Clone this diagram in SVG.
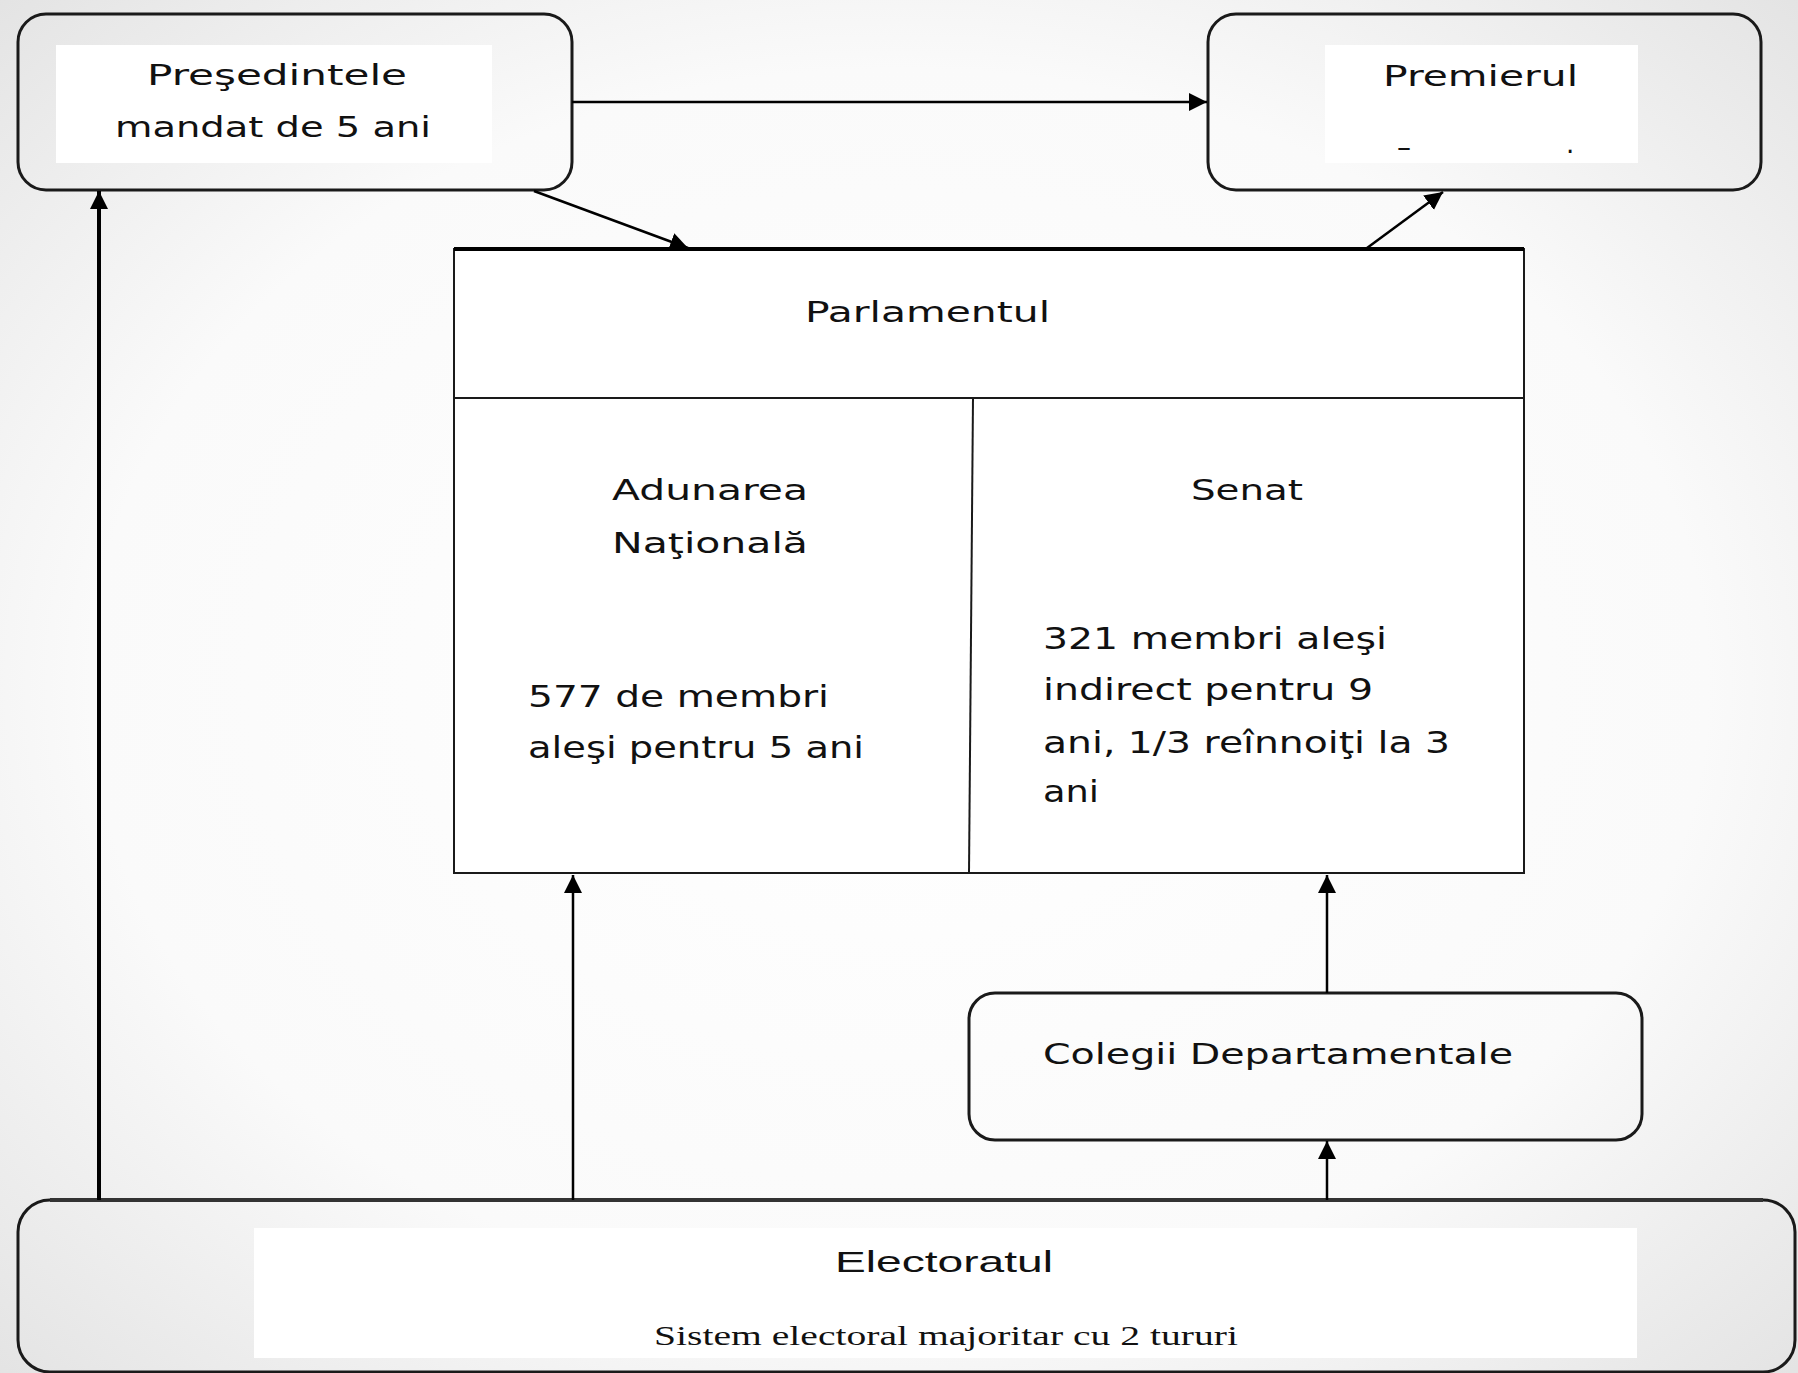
<svg xmlns="http://www.w3.org/2000/svg" width="1798" height="1373" viewBox="0 0 1798 1373">
<defs>
<radialGradient id="bg" cx="50%" cy="50%" r="75%">
<stop offset="0" stop-color="#ffffff"/>
<stop offset="0.6" stop-color="#fafafa"/>
<stop offset="1" stop-color="#e0e0e0"/>
</radialGradient>
<marker id="arr" markerUnits="userSpaceOnUse" markerWidth="20" markerHeight="20" refX="18" refY="9" orient="auto">
<path d="M0,0 L18,9 L0,18 z" fill="#000"/>
</marker>
<style>
.rbox{fill:none;stroke:#1a1a1a;stroke-width:3}
.inner{fill:#ffffff;stroke:none}
.t{font-family:"DejaVu Sans","Liberation Sans",sans-serif;fill:#111;}
.c{stroke:#000;stroke-width:2.5;fill:none;marker-end:url(#arr)}
</style>
</defs>
<rect x="0" y="0" width="1798" height="1373" fill="url(#bg)"/>

<g id="presedinte">
<rect class="rbox" x="18" y="14" width="554" height="176" rx="28"/>
<rect class="inner" x="56" y="45" width="436" height="118"/>
<text class="t" x="147" y="85" font-size="29" textLength="260" lengthAdjust="spacingAndGlyphs">Preşedintele</text>
<text class="t" x="115" y="137" font-size="29" textLength="316" lengthAdjust="spacingAndGlyphs">mandat de 5 ani</text>
</g>

<g id="premier">
<rect class="rbox" x="1208" y="14" width="553" height="176" rx="28"/>
<rect class="inner" x="1325" y="45" width="313" height="118"/>
<text class="t" x="1383" y="86" font-size="29" textLength="195" lengthAdjust="spacingAndGlyphs">Premierul</text>
<text class="t" x="1397" y="157" font-size="28">–</text>
<text class="t" x="1566" y="153" font-size="26">.</text>
</g>

<g id="parlament">
<rect x="454" y="249" width="1070" height="624" fill="#ffffff" stroke="#1a1a1a" stroke-width="2"/>
<line x1="454" y1="249" x2="1524" y2="249" stroke="#000" stroke-width="4"/>
<line x1="454" y1="398" x2="1524" y2="398" stroke="#1a1a1a" stroke-width="2"/>
<line x1="973" y1="398" x2="969" y2="873" stroke="#1a1a1a" stroke-width="2"/>
<text class="t" x="805" y="322" font-size="28" textLength="245" lengthAdjust="spacingAndGlyphs">Parlamentul</text>
</g>

<g id="adunarea">
<text class="t" x="612" y="500" font-size="28" textLength="196" lengthAdjust="spacingAndGlyphs">Adunarea</text>
<text class="t" x="612" y="553" font-size="28" textLength="196" lengthAdjust="spacingAndGlyphs">Naţională</text>
<text class="t" x="528" y="707" font-size="30" textLength="301" lengthAdjust="spacingAndGlyphs">577 de membri</text>
<text class="t" x="528" y="758" font-size="30" textLength="336" lengthAdjust="spacingAndGlyphs">aleşi pentru 5 ani</text>
</g>

<g id="senat">
<text class="t" x="1191" y="500" font-size="28" textLength="112" lengthAdjust="spacingAndGlyphs">Senat</text>
<text class="t" x="1043" y="649" font-size="30" textLength="344" lengthAdjust="spacingAndGlyphs">321  membri aleşi</text>
<text class="t" x="1043" y="700" font-size="30" textLength="330" lengthAdjust="spacingAndGlyphs">indirect pentru 9</text>
<text class="t" x="1043" y="753" font-size="30" textLength="407" lengthAdjust="spacingAndGlyphs">ani, 1/3 reînnoiţi la 3</text>
<text class="t" x="1043" y="802" font-size="30" textLength="56" lengthAdjust="spacingAndGlyphs">ani</text>
</g>

<g id="colegii">
<rect class="rbox" x="969" y="993" width="673" height="147" rx="26"/>
<text class="t" x="1043" y="1064" font-size="29" textLength="470" lengthAdjust="spacingAndGlyphs">Colegii Departamentale</text>
</g>

<g id="electoratul">
<rect class="rbox" x="18" y="1200" width="1777" height="172" rx="32"/>
<line x1="50" y1="1200" x2="1763" y2="1200" stroke="#333" stroke-width="4"/>
<rect class="inner" x="254" y="1228" width="1383" height="130"/>
<text x="835" y="1272" font-family="Liberation Sans, sans-serif" font-size="29" fill="#111" textLength="218" lengthAdjust="spacingAndGlyphs">Electoratul</text>
<text x="654" y="1345" font-family="Liberation Serif, serif" font-size="28" fill="#111" textLength="584" lengthAdjust="spacingAndGlyphs">Sistem electoral majoritar cu 2 tururi</text>
</g>

<g id="connectors">
<line class="c" x1="572" y1="102" x2="1207" y2="102"/>
<line class="c" x1="534" y1="191" x2="688" y2="248"/>
<line class="c" x1="1367" y1="248" x2="1443" y2="192"/>
<line class="c" x1="99" y1="1200" x2="99" y2="191" style="stroke-width:4"/>
<line class="c" x1="573" y1="1200" x2="573" y2="875"/>
<line class="c" x1="1327" y1="993" x2="1327" y2="875"/>
<line class="c" x1="1327" y1="1200" x2="1327" y2="1141"/>
</g>
</svg>
